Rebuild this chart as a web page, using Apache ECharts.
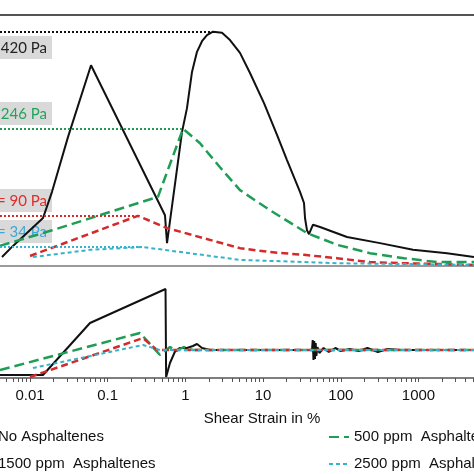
<!DOCTYPE html>
<html>
<head>
<meta charset="utf-8">
<script src="https://cdn.jsdelivr.net/npm/echarts@6/dist/echarts.min.js"></script>
<style>
html, body { margin: 0; padding: 0; background: #fff; }
#view { width: 474px; height: 474px; }
</style>
</head>
<body>
<div id="view"></div>
<script>
// visible strain window (the figure is cropped on both sides)
const xMin = 0.004111;
const xMax = 5179;

// tick labels / tick positions of the log axis
const labelValues = [0.01, 0.1, 1, 10, 100, 1000];
const decades = [0.001, 0.01, 0.1, 1, 10, 100, 1000];
const minorSteps = [1, 2, 3, 4, 5, 6, 7, 8, 9];

// upper panel: shear stress in Pa
const noStrain = [0.00436, 0.00604, 0.0147, 0.0192, 0.0308, 0.061, 0.546, 0.58, 0.904, 1.048, 1.216, 1.41, 1.635, 1.897, 2.265, 2.958, 3.75, 5.043, 6.783, 10.27, 15.1, 20.3, 29.85, 33.61, 34.62, 36.73, 38.96, 43.87, 53.99, 120.2, 319.6, 849.4, 2327, 5179];
const noStress = [16, 36, 86, 133, 231, 360, 91, 41, 240, 283, 348, 384, 403, 414, 420, 418, 405, 382, 346, 292, 235, 190, 133, 113, 86, 64, 57, 74, 70, 52, 41, 29, 23, 16];

const p500Strain = [0.0041, 0.0192, 0.4436, 0.9313, 1.542, 2.788, 5.043, 12.27, 36.73, 89.4, 237.6, 651, 1730, 5179];
const p500Stress = [36, 64, 124, 246, 220, 177, 136, 100, 59, 38, 23, 14, 7, 7];

const p1500Strain = [0.01, 0.2455, 0.58, 5.043, 12.27, 33.61, 89.4, 237.6, 651, 5179];
const p1500Stress = [18, 90, 68, 32, 25, 20, 14, 7, 5, 2];

const p2500Strain = [0.0109, 0.0592, 0.2846, 5.043, 89.4, 5179];
const p2500Stress = [16, 29, 34, 11, 5, 2];

// yield stress markers: value, strain where the dotted line ends, text
const yieldValues = [420, 246, 90, 34];
const yieldEnds = [2.265, 0.9313, 0.2455, 0.2846];
const yieldTexts = ["420 Pa", "246 Pa", "= 90 Pa", "= 34 Pa"];

// lower panel (relative units)
const noLowStrain = [0.0041, 0.0147, 0.0592, 0.555, 0.565, 0.633, 0.73, 0.842, 1.05, 1.25, 1.41, 1.64, 2.07, 10, 42.6, 43.5, 44.5, 45.5, 46.5, 47.5, 48.5, 50, 53, 60, 70, 85, 100, 130, 170, 220, 300, 400, 600, 5179];
const noLow = [3, 3, 55, 89, 1, 15, 26, 30, 30, 32, 34, 30, 28, 28, 28, 38, 18, 37, 19, 35, 22, 31, 25, 30, 26, 30, 27, 29, 27, 30, 26, 29, 28, 28];

const p500LowStrain = [0.0041, 0.2604, 0.471, 0.633, 0.76, 0.95, 1.25, 5179];
const p500Low = [8, 45, 23, 31, 27, 31, 28, 28];

const p1500LowStrain = [0.01, 0.2846, 0.4318, 5179];
const p1500Low = [1, 40, 28, 28];

const p2500LowStrain = [0.0109, 0.2846, 0.47, 5179];
const p2500Low = [10, 33, 28, 28];

const names = ["No Asphaltenes", "500 ppm  Asphaltenes", "1500 ppm  Asphaltenes", "2500 ppm  Asphaltenes"];
const colors = ["#111111", "#1f9d55", "#d42a2a", "#35b3cc"];
const dashes = ["solid", [10, 5], [7, 4], [4, 3]];
const widths = [2, 2.5, 2.5, 2];
const labelColors = ["#222222", "#23a35a", "#e02c2c", "#3aa8d8"];

const pair = (xs, ys) => xs.map((x, i) => [x, ys[i]]);

let tickValues = [];
decades.forEach((d) => {
  minorSteps.forEach((m) => {
    let v = +(d * m).toPrecision(3);
    if (v >= xMin && v <= xMax) tickValues.push(v);
  });
});

let upper = [
  pair(noStrain, noStress),
  pair(p500Strain, p500Stress),
  pair(p1500Strain, p1500Stress),
  pair(p2500Strain, p2500Stress),
];
let lower = [
  pair(noLowStrain, noLow),
  pair(p500LowStrain, p500Low),
  pair(p1500LowStrain, p1500Low),
  pair(p2500LowStrain, p2500Low),
];

let seriesList = [];
upper.forEach((data, i) => {
  seriesList.push({
    name: names[i],
    type: "line",
    xAxisIndex: 0,
    yAxisIndex: 0,
    symbol: "none",
    z: 2 + i,
    lineStyle: { color: colors[i], width: widths[i], type: dashes[i] },
    itemStyle: { color: colors[i] },
    data: data,
    markLine: {
      silent: true,
      symbol: "none",
      label: { show: false },
      lineStyle: { color: colors[i], width: 2, type: [2, 2] },
      data: [[{ coord: [xMin, yieldValues[i]] }, { coord: [yieldEnds[i], yieldValues[i]] }]],
    },
  });
});
lower.forEach((data, i) => {
  seriesList.push({
    name: names[i],
    type: "line",
    xAxisIndex: 1,
    yAxisIndex: 1,
    symbol: "none",
    z: 2 + i,
    lineStyle: { color: colors[i], width: widths[i], type: dashes[i] },
    itemStyle: { color: colors[i] },
    data: data,
  });
});

// grey boxes with the yield stress values
let boxTops = [36, 102, 189, 220];
let graphics = yieldTexts.map((t, i) => ({
  type: "group",
  z: 100,
  children: [
    { type: "rect", shape: { x: -10, y: boxTops[i], width: 62, height: 23 }, style: { fill: "#d9d9d9" } },
    {
      type: "text",
      x: 47,
      y: boxTops[i] + 12,
      style: {
        text: t,
        fill: labelColors[i],
        font: "15px Lato",
        textAlign: "right",
        textVerticalAlign: "middle",
      },
    },
  ],
}));

// one legend block per entry, two columns (left one cut by the crop)
let legendLeft = [-28, 328, -28, 328];
let legendTop = [428, 428, 455, 455];
let legendList = names.map((n, i) => ({
  left: legendLeft[i],
  top: legendTop[i],
  padding: 0,
  itemWidth: 20,
  itemHeight: 14,
  itemGap: 4,
  data: [n],
  itemStyle: { opacity: 0 },
  textStyle: { fontSize: 15, color: "#111", fontFamily: "Liberation Sans", lineHeight: 18 },
}));

let option = {
  animation: false,
  backgroundColor: "#ffffff",
  grid: [
    { left: 0, right: 0, top: 15, height: 251 },
    { left: 0, right: 0, top: 278, height: 100 },
  ],
  xAxis: [
    {
      type: "log",
      gridIndex: 0,
      min: xMin,
      max: xMax,
      axisLine: { lineStyle: { color: "#9a9a9a", width: 2 } },
      axisTick: { show: false },
      axisLabel: { show: false },
      splitLine: { show: false },
    },
    {
      type: "log",
      gridIndex: 1,
      min: xMin,
      max: xMax,
      axisLine: { lineStyle: { color: "#555", width: 1.5 } },
      axisTick: { show: true, length: 4, customValues: tickValues, lineStyle: { color: "#555" } },
      axisLabel: {
        customValues: labelValues,
        formatter: (v) => String(v),
        fontSize: 15,
        color: "#111",
        margin: 10,
        fontFamily: "Liberation Sans",
      },
      splitLine: { show: false },
      name: "Shear Strain in %",
      nameLocation: "middle",
      nameGap: 33,
      nameTextStyle: { fontSize: 15, color: "#111", fontFamily: "Liberation Sans", padding: [0, 0, 0, 50] },
    },
    {
      type: "log",
      gridIndex: 0,
      position: "top",
      min: xMin,
      max: xMax,
      axisLine: { lineStyle: { color: "#555", width: 2 } },
      axisTick: { show: false },
      axisLabel: { show: false },
      splitLine: { show: false },
    },
  ],
  yAxis: [
    { type: "value", gridIndex: 0, min: 0, max: 450, show: false },
    { type: "value", gridIndex: 1, min: 0, max: 100, show: false },
  ],
  legend: legendList,
  graphic: graphics,
  series: seriesList,
};

let myChart = echarts.init(document.getElementById("view"));
myChart.setOption(option);
</script>
</body>
</html>
